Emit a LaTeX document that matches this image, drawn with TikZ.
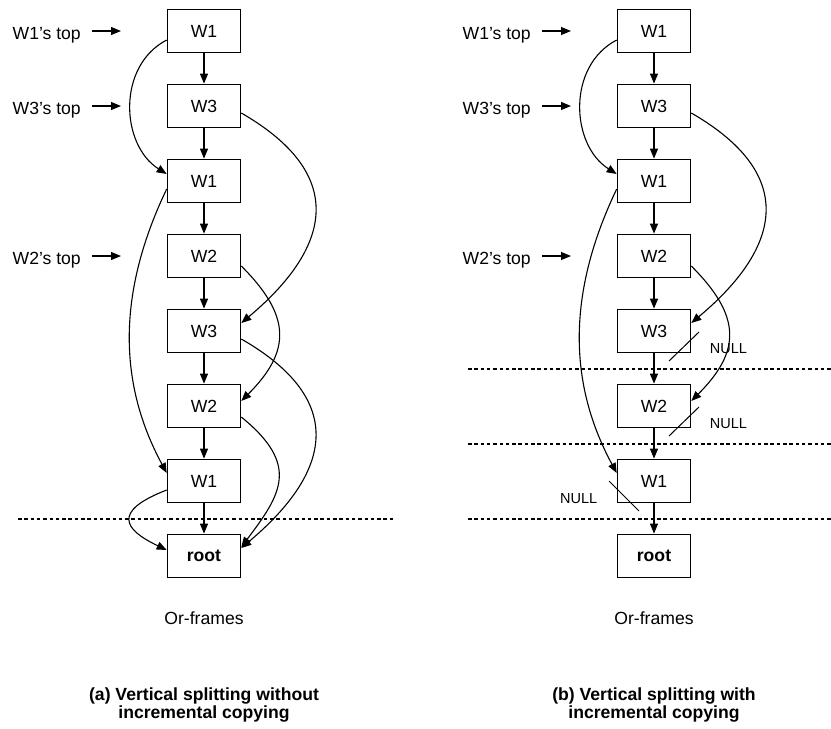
\documentclass[tikz,border=0pt]{standalone}
\usepackage{fontspec}
\setmainfont{Liberation Sans}
\usetikzlibrary{arrows.meta,calc}

\begin{document}
\begin{tikzpicture}[x=1pt,y=-1pt,
  frame/.style={draw,line width=1.3pt,minimum width=73.3pt,minimum height=43.5pt,
    inner sep=0pt,font=\fontsize{17.6}{20}\selectfont},
  link/.style={line width=1.1pt,-{Triangle[length=10pt,width=8pt]}},
  lbl/.style={font=\fontsize{17.6}{20}\selectfont,inner sep=0pt},
  nulltxt/.style={font=\fontsize{14.5}{16}\selectfont,inner sep=0pt},
  nullbar/.style={line width=1pt},
  cut/.style={line width=1.1pt,dash pattern=on 3.5pt off 2.8pt},
  caption/.style={font=\bfseries\fontsize{17.6}{16}\selectfont,align=center,inner sep=0pt}]
\useasboundingbox (0,0) rectangle (831,729);

% two stacks of or-frames: (a) on the left, (b) on the right
\foreach \p/\cx in {a/204,b/654}{
  \foreach \t [count=\i] in {W1,W3,W1,W2,W3,W2,W1,\textbf{root}}{
    \node[frame] (\p\i) at (\cx,{31+75*(\i-1)}) {\t};
  }
  \foreach \i [count=\j from 2] in {1,...,7}{
    \draw[link] (\p\i) -- (\p\j);
  }
  % worker top pointers
  \foreach \w/\r in {W1/1,W3/2,W2/4}{
    \node[lbl,anchor=base east] (\p t\r) at ($(\p\r)+(-123,8.3)$) {\w's top};
    \coordinate (\p k\r) at ($(\p\r)+(-83,0)$);
    \draw[link] ([xshift=11pt]\p t\r.east |- \p k\r) -- (\p k\r);
  }
  % links between frames of the same worker
  \draw[link] ([yshift=-9pt]\p1.west) .. controls +(-50,26) and +(-46,-29) .. ([yshift=7pt]\p3.west);
  \draw[link] ([yshift=-7pt]\p2.east) .. controls +(116,67) and +(80,-67) .. ([yshift=8pt]\p5.east);
  \draw[link] ([yshift=-8pt]\p3.west) .. controls +(-57,119) and +(-41,-76) .. ([yshift=8pt]\p7.west);
  \draw[link] ([yshift=-10pt]\p4.east) .. controls +(50,50) and +(50,-50) .. ([yshift=5pt]\p6.east);
  \node[lbl,anchor=base] (\p of) at (\cx,624.3) {Or-frames};
}

% (a): every frame still points down to the root
\draw[link] ([yshift=-8pt]a5.east) .. controls +(115,66) and +(81,-68) .. ([yshift=8pt]a8.east);
\draw[link] ([yshift=-11pt]a6.east) .. controls +(59,48) and +(40,-53) .. ([yshift=9pt]a8.east);
\draw[link] ([yshift=-9pt]a7.west) .. controls +(-54,21) and +(-44,-21) .. ([yshift=6pt]a8.west);
\draw[cut] (18,519) -- (393,519);

% (b): copied parts end in NULL links
\draw[nullbar] ($(b5)+(45,1)$) -- ($(b5)+(15,30)$);
\node[nulltxt] (n5) at ($(b5)+(74.5,18)$) {NULL};
\draw[nullbar] ($(b6)+(45,1)$) -- ($(b6)+(15,30)$);
\node[nulltxt] (n6) at ($(b6)+(74.5,18)$) {NULL};
\draw[nullbar] ($(b7)+(-45,0)$) -- ($(b7)+(-15,30)$);
\node[nulltxt] (n7) at ($(b7)+(-75.3,18)$) {NULL};
\foreach \y in {369,444,519}{
  \draw[cut] (468,\y) -- (831,\y);
}

\node[caption] (capa) at (204,705) {(a) Vertical splitting without\\incremental copying};
\node[caption] (capb) at (654,705) {(b) Vertical splitting with\\incremental copying};
\end{tikzpicture}
\end{document}
